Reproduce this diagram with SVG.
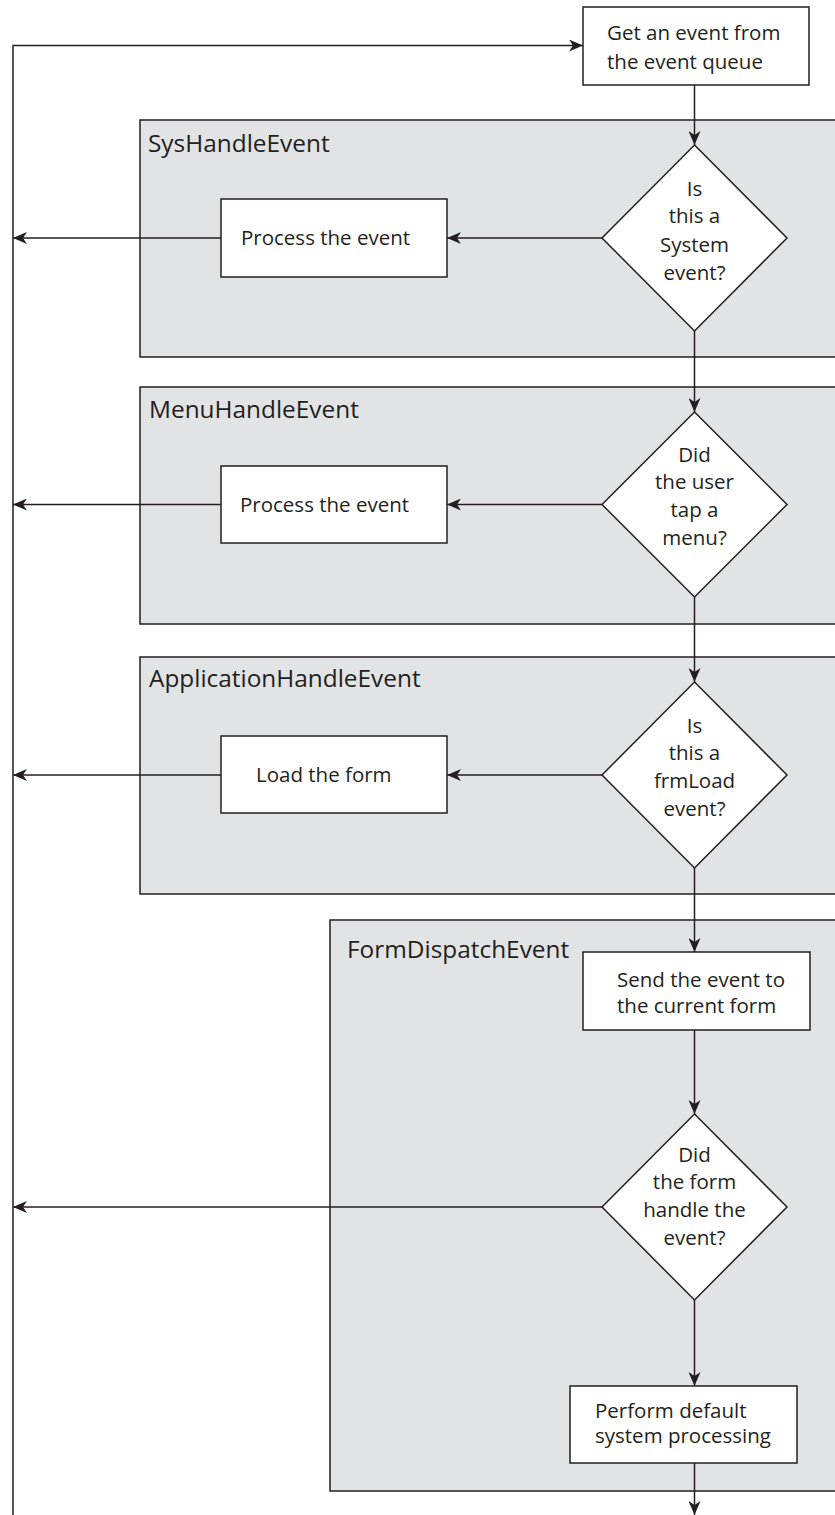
<svg xmlns="http://www.w3.org/2000/svg" width="835" height="1515" viewBox="0 0 835 1515">
<style>
.panel{fill:#e2e3e5;stroke:#231f20;stroke-width:1.5}
.box{fill:#fff;stroke:#231f20;stroke-width:1.5}
.t{font-family:"Open Sans","Liberation Sans",sans-serif;font-size:20.5px;fill:#231f20}
.title{font-family:"Open Sans","Liberation Sans",sans-serif;font-size:24.4px;fill:#231f20}
.c{text-anchor:middle}
.conn path{fill:none;stroke:#231f20;stroke-width:1.5}
</style>
<defs>
<marker id="arr" markerUnits="userSpaceOnUse" viewBox="0 0 14 12" refX="14" refY="6" markerWidth="14" markerHeight="12" orient="auto">
<path d="M0,0 L14,6 L0,12 L4,6 Z" fill="#231f20"/>
</marker>
</defs>
<rect width="835" height="1515" fill="#fff"/>
<g id="panel-sys"><rect class="panel" x="140" y="120" width="710" height="237"/><text class="title" x="148" y="152">SysHandleEvent</text></g>
<g id="panel-menu"><rect class="panel" x="140" y="387" width="710" height="237"/><text class="title" x="149" y="418">MenuHandleEvent</text></g>
<g id="panel-app"><rect class="panel" x="140" y="657" width="710" height="237"/><text class="title" x="149" y="687">ApplicationHandleEvent</text></g>
<g id="panel-form"><rect class="panel" x="330" y="920" width="520" height="571"/><text class="title" x="347" y="958">FormDispatchEvent</text></g>

<g class="conn" id="connectors">
<path d="M13,1515 V45.5 H583" marker-end="url(#arr)"/>
<path d="M694.5,85 V145" marker-end="url(#arr)"/>
<path d="M694.5,331 V412" marker-end="url(#arr)"/>
<path d="M694.5,597 V682" marker-end="url(#arr)"/>
<path d="M694.5,868 V952" marker-end="url(#arr)"/>
<path d="M694.5,1030 V1114" marker-end="url(#arr)"/>
<path d="M694.5,1300 V1386" marker-end="url(#arr)"/>
<path d="M694.5,1463 V1515" marker-end="url(#arr)"/>
<path d="M602,238 H447" marker-end="url(#arr)"/>
<path d="M221,238 H13" marker-end="url(#arr)"/>
<path d="M602,504.5 H447" marker-end="url(#arr)"/>
<path d="M221,504.5 H13" marker-end="url(#arr)"/>
<path d="M602,775 H447" marker-end="url(#arr)"/>
<path d="M221,775 H13" marker-end="url(#arr)"/>
<path d="M602,1207 H13" marker-end="url(#arr)"/>
</g>

<g id="get-event"><rect class="box" x="583" y="7" width="226" height="78"/><text class="t" x="607" y="40">Get an event from</text><text class="t" x="607" y="69">the event queue</text></g>

<g id="d-system"><polygon class="box" points="694.5,145 787,238 694.5,331 602,238"/>
<text class="t c" x="694.5" y="196">Is</text><text class="t c" x="694.5" y="223">this a</text><text class="t c" x="694.5" y="252">System</text><text class="t c" x="694.5" y="280">event?</text></g>
<g id="b-process1"><rect class="box" x="221" y="199" width="226" height="78"/><text class="t" x="241" y="245">Process the event</text></g>

<g id="d-menu"><polygon class="box" points="694.5,412 787,504.5 694.5,597 602,504.5"/>
<text class="t c" x="694.5" y="462">Did</text><text class="t c" x="694.5" y="489">the user</text><text class="t c" x="694.5" y="517">tap a</text><text class="t c" x="694.5" y="545">menu?</text></g>
<g id="b-process2"><rect class="box" x="221" y="466" width="226" height="77"/><text class="t" x="240" y="512">Process the event</text></g>

<g id="d-frmload"><polygon class="box" points="694.5,682 787,775 694.5,868 602,775"/>
<text class="t c" x="694.5" y="733">Is</text><text class="t c" x="694.5" y="760">this a</text><text class="t c" x="694.5" y="788">frmLoad</text><text class="t c" x="694.5" y="816">event?</text></g>
<g id="b-load"><rect class="box" x="221" y="736" width="226" height="77"/><text class="t" x="256" y="782">Load the form</text></g>

<g id="b-send"><rect class="box" x="583" y="952" width="227" height="78"/><text class="t" x="617" y="987">Send the event to</text><text class="t" x="617" y="1013">the current form</text></g>

<g id="d-form"><polygon class="box" points="694.5,1114 787,1207 694.5,1300 602,1207"/>
<text class="t c" x="694.5" y="1162">Did</text><text class="t c" x="694.5" y="1189">the form</text><text class="t c" x="694.5" y="1217">handle the</text><text class="t c" x="694.5" y="1245">event?</text></g>

<g id="b-default"><rect class="box" x="570" y="1386" width="227" height="77"/><text class="t" x="595" y="1418">Perform default</text><text class="t" x="595" y="1443">system processing</text></g>
</svg>
